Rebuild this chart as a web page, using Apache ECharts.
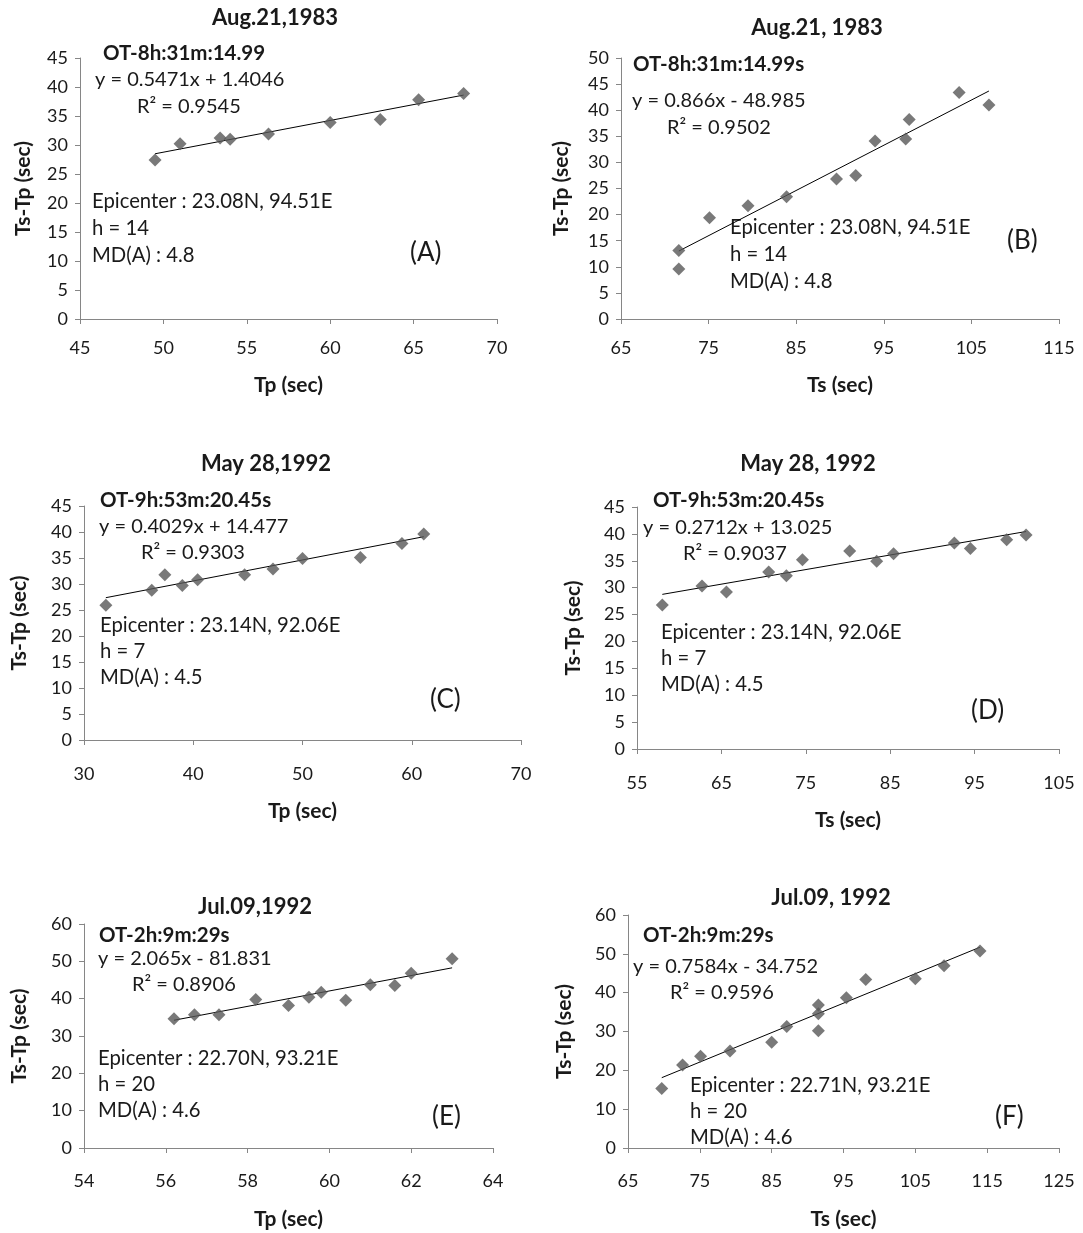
<!DOCTYPE html>
<html>
<head>
<meta charset="utf-8">
<script src="https://cdn.jsdelivr.net/npm/echarts@6/dist/echarts.min.js"></script>
<style>
  html, body { margin: 0; padding: 0; background: #fff; }
  #chart { width: 1083px; height: 1233px; }
</style>
</head>
<body>
<div id="chart"></div>
<script>
// ---- Panel A: Aug.21,1983, Ts-Tp against Tp ----
const tpA = [49.5, 51.0, 53.4, 54.0, 56.3, 60.0, 63.0, 65.3, 68.0];
const dtA = [27.4, 30.2, 31.2, 31.0, 31.9, 33.9, 34.4, 37.8, 38.9];
const fitA = [0.5471, 1.4046];
const r2A = '0.9545';
const xTicksA = [45, 50, 55, 60, 65, 70];
const yTicksA = [0, 5, 10, 15, 20, 25, 30, 35, 40, 45];

// ---- Panel B: Aug.21, 1983, Ts-Tp against Ts ----
const tsB = [71.6, 71.6, 75.1, 79.5, 83.9, 89.6, 91.8, 94.0, 97.5, 97.9, 103.6, 107.0];
const dtB = [13.1, 9.6, 19.4, 21.7, 23.4, 26.8, 27.5, 34.1, 34.5, 38.2, 43.4, 41.0];
const fitB = [0.866, -48.985];
const r2B = '0.9502';
const xTicksB = [65, 75, 85, 95, 105, 115];
const yTicksB = [0, 5, 10, 15, 20, 25, 30, 35, 40, 45, 50];

// ---- Panel C: May 28,1992, Ts-Tp against Tp ----
const tpC = [32.0, 36.2, 37.4, 39.0, 40.4, 44.7, 47.3, 50.0, 55.3, 59.1, 61.1];
const dtC = [25.9, 28.8, 31.8, 29.7, 30.8, 31.8, 32.9, 34.9, 35.1, 37.8, 39.6];
const fitC = [0.4029, 14.477];
const r2C = '0.9303';
const xTicksC = [30, 40, 50, 60, 70];
const yTicksC = [0, 5, 10, 15, 20, 25, 30, 35, 40, 45];

// ---- Panel D: May 28, 1992, Ts-Tp against Ts ----
const tsD = [58.0, 62.7, 65.6, 70.6, 72.7, 74.6, 80.2, 83.4, 85.4, 92.6, 94.5, 98.8, 101.1];
const dtD = [26.8, 30.3, 29.2, 32.9, 32.2, 35.2, 36.8, 34.9, 36.3, 38.3, 37.3, 38.9, 39.8];
const fitD = [0.2712, 13.025];
const r2D = '0.9037';
const xTicksD = [55, 65, 75, 85, 95, 105];
const yTicksD = [0, 5, 10, 15, 20, 25, 30, 35, 40, 45];

// ---- Panel E: Jul.09,1992, Ts-Tp against Tp ----
const tpE = [56.2, 56.7, 57.3, 58.2, 59.0, 59.5, 59.8, 60.4, 61.0, 61.6, 62.0, 63.0];
const dtE = [34.6, 35.7, 35.7, 39.8, 38.2, 40.4, 41.7, 39.6, 43.7, 43.5, 46.8, 50.7];
const fitE = [2.065, -81.831];
const r2E = '0.8906';
const xTicksE = [54, 56, 58, 60, 62, 64];
const yTicksE = [0, 10, 20, 30, 40, 50, 60];

// ---- Panel F: Jul.09, 1992, Ts-Tp against Ts ----
const tsF = [69.7, 72.6, 75.1, 79.2, 85.0, 87.1, 91.5, 91.5, 91.5, 95.4, 98.1, 105.0, 109.0, 114.0];
const dtF = [15.3, 21.4, 23.6, 25.0, 27.2, 31.3, 30.2, 34.6, 36.8, 38.7, 43.4, 43.6, 46.9, 50.7];
const fitF = [0.7584, -34.752];
const r2F = '0.9596';
const xTicksF = [65, 75, 85, 95, 105, 115, 125];
const yTicksF = [0, 10, 20, 30, 40, 50, 60];

// ---- Panel texts ----
const titles = ['Aug.21,1983', 'Aug.21, 1983', 'May 28,1992', 'May 28, 1992', 'Jul.09,1992', 'Jul.09, 1992'];
const originTimes = ['OT-8h:31m:14.99', 'OT-8h:31m:14.99s', 'OT-9h:53m:20.45s', 'OT-9h:53m:20.45s', 'OT-2h:9m:29s', 'OT-2h:9m:29s'];
const epicenters = ['23.08N, 94.51E', '23.08N, 94.51E', '23.14N, 92.06E', '23.14N, 92.06E', '22.70N, 93.21E', '22.71N, 93.21E'];
const depths = [14, 14, 7, 7, 20, 20];
const magnitudes = ['4.8', '4.8', '4.5', '4.5', '4.6', '4.6'];
const letters = ['(A)', '(B)', '(C)', '(D)', '(E)', '(F)'];
const xNames = ['Tp (sec)', 'Ts (sec)', 'Tp (sec)', 'Ts (sec)', 'Tp (sec)', 'Ts (sec)'];
const yName = 'Ts-Tp (sec)';

const FONT = 'Lato, "Open Sans", "DejaVu Sans", sans-serif';
const TXT = '#1a1a1a';
const AXIS = '#868686';
const MARK = '#575757';

const xs = [tpA, tsB, tpC, tsD, tpE, tsF];
const ys = [dtA, dtB, dtC, dtD, dtE, dtF];
const fits = [fitA, fitB, fitC, fitD, fitE, fitF];
const r2s = [r2A, r2B, r2C, r2D, r2E, r2F];
const xTicks = [xTicksA, xTicksB, xTicksC, xTicksD, xTicksE, xTicksF];
const yTicks = [yTicksA, yTicksB, yTicksC, yTicksD, yTicksE, yTicksF];

// Layout of each panel: plot box, gaps and text anchor points
const layout = [
  { grid: [80, 58, 417, 261], title: [275, 18], xGap: 56, yGap: 46, lblMargin: 20,
    ot: [103, 53], eq: [95, 80], r2: [137, 107], epi: [92, 201], letter: [410, 253] },
  { grid: [621, 58, 438, 261], title: [817, 28], xGap: 56, yGap: 49, lblMargin: 20,
    ot: [633, 64], eq: [632, 101], r2: [667, 128], epi: [730, 227], letter: [1007, 241] },
  { grid: [84, 506, 437, 234], title: [266, 464], xGap: 61, yGap: 54, lblMargin: 25,
    ot: [100, 500], eq: [99, 527], r2: [141, 553], epi: [100, 625], letter: [430, 700] },
  { grid: [637, 507, 422, 242], title: [808, 464], xGap: 61, yGap: 53, lblMargin: 25,
    ot: [653, 500], eq: [643, 528], r2: [683, 554], epi: [661, 632], letter: [971, 711] },
  { grid: [84, 924, 409, 224], title: [255, 907], xGap: 61, yGap: 54, lblMargin: 24,
    ot: [99, 935], eq: [98, 959], r2: [132, 985], epi: [98, 1058], letter: [432, 1117] },
  { grid: [628, 915, 431, 233], title: [831, 898], xGap: 61, yGap: 53, lblMargin: 24,
    ot: [643, 935], eq: [633, 967], r2: [670, 993], epi: [690, 1085], letter: [995, 1117] }
];

function eqText(fit) {
  const a = fit[0], b = fit[1];
  return 'y = ' + a + 'x ' + (b < 0 ? '- ' : '+ ') + Math.abs(b);
}

function txt(x, y, s, size, bold, align) {
  return {
    type: 'text', x: x, y: y, silent: true,
    style: {
      text: s, fill: TXT,
      font: (bold ? 'bold ' : '') + size + 'px ' + FONT,
      textAlign: align || 'left', textVerticalAlign: 'middle',
      align: align || 'left', verticalAlign: 'middle'
    }
  };
}

const grids = [], xAxes = [], yAxes = [], series = [], graphics = [];

layout.forEach(function (L, i) {
  grids.push({ left: L.grid[0], top: L.grid[1], width: L.grid[2], height: L.grid[3], containLabel: false });
  const xt = xTicks[i], yt = yTicks[i];
  xAxes.push({
    type: 'value', gridIndex: i, min: xt[0], max: xt[xt.length - 1],
    name: xNames[i], nameLocation: 'middle', nameGap: L.xGap,
    nameTextStyle: { fontFamily: FONT, fontWeight: 'bold', fontSize: 21, color: TXT },
    axisLine: { show: true, onZero: false, lineStyle: { color: AXIS, width: 1 } },
    axisTick: { show: true, length: 5, inside: false, customValues: xt, lineStyle: { color: AXIS } },
    axisLabel: { customValues: xt, margin: L.lblMargin, fontFamily: FONT, fontSize: 18, color: TXT },
    splitLine: { show: false }
  });
  yAxes.push({
    type: 'value', gridIndex: i, min: yt[0], max: yt[yt.length - 1],
    name: yName, nameLocation: 'middle', nameGap: L.yGap,
    nameTextStyle: { fontFamily: FONT, fontWeight: 'bold', fontSize: 21, color: TXT },
    axisLine: { show: true, onZero: false, lineStyle: { color: AXIS, width: 1 } },
    axisTick: { show: true, length: 5, inside: false, customValues: yt, lineStyle: { color: AXIS } },
    axisLabel: { customValues: yt, margin: 12, fontFamily: FONT, fontSize: 18, color: TXT },
    splitLine: { show: false }
  });

  // observed points
  series.push({
    type: 'scatter', xAxisIndex: i, yAxisIndex: i,
    symbol: 'diamond', symbolSize: 13,
    itemStyle: { color: MARK },
    data: xs[i].map(function (v, k) { return [v, ys[i][k]]; }),
    z: 3
  });
  // linear fit across the observed range
  const x0 = Math.min.apply(null, xs[i]), x1 = Math.max.apply(null, xs[i]);
  const f = fits[i];
  series.push({
    type: 'line', xAxisIndex: i, yAxisIndex: i,
    showSymbol: false, symbol: 'none',
    lineStyle: { color: '#000', width: 1 },
    data: [[x0, f[0] * x0 + f[1]], [x1, f[0] * x1 + f[1]]],
    z: 2, silent: true
  });

  graphics.push(txt(L.title[0], L.title[1], titles[i], 22, true, 'center'));
  graphics.push(txt(L.ot[0], L.ot[1], originTimes[i], 20.5, true));
  graphics.push(txt(L.eq[0], L.eq[1], eqText(fits[i]), 20, false));
  graphics.push(txt(L.r2[0], L.r2[1], 'R\u00B2 = ' + r2s[i], 20, false));
  const lh = (i < 2) ? 27 : 26;
  graphics.push(txt(L.epi[0], L.epi[1], 'Epicenter : ' + epicenters[i], 20.3, false));
  graphics.push(txt(L.epi[0], L.epi[1] + lh, 'h = ' + depths[i], 20.3, false));
  graphics.push(txt(L.epi[0], L.epi[1] + 2 * lh, 'MD(A) : ' + magnitudes[i], 20.3, false));
  graphics.push(txt(L.letter[0], L.letter[1], letters[i], 26, false));
});

const chart = echarts.init(document.getElementById('chart'), null, { renderer: 'canvas' });
chart.setOption({
  animation: false,
  backgroundColor: '#ffffff',
  grid: grids,
  xAxis: xAxes,
  yAxis: yAxes,
  series: series,
  graphic: graphics
});
</script>
</body>
</html>
